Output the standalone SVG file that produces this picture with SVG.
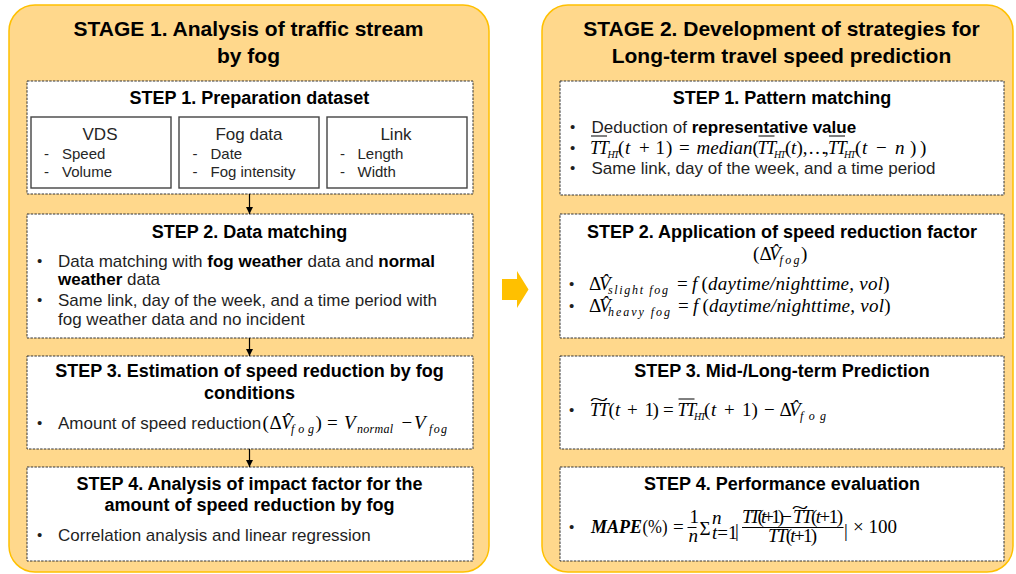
<svg xmlns="http://www.w3.org/2000/svg" width="1016" height="574" viewBox="0 0 1016 574">
<defs>
<style>
.panel{fill:#FFD88C;stroke:#FFC000;stroke-width:1.5}
.step{fill:#fff;stroke:#333;stroke-width:1;stroke-dasharray:2.5 1.2}
.sub{fill:#fff;stroke:#444;stroke-width:1.4}
.ttl{font-family:"Liberation Sans",Arial,sans-serif;font-weight:bold;font-size:21px;fill:#000;text-anchor:middle}
.st{font-family:"Liberation Sans",Arial,sans-serif;font-weight:bold;font-size:18px;fill:#000;text-anchor:middle}
.tx{font-family:"Liberation Sans",Arial,sans-serif;font-size:17px;fill:#1f1f1f}
.sh{font-family:"Liberation Sans",Arial,sans-serif;font-size:17px;fill:#262626;text-anchor:middle}
.si{font-family:"Liberation Sans",Arial,sans-serif;font-size:15px;fill:#262626}
.b{font-weight:bold;fill:#000}
.bu{font-family:"Liberation Sans",Arial,sans-serif;font-size:15px;fill:#1f1f1f}
.m{font-family:"Liberation Serif","Times New Roman",serif;font-style:italic;font-size:19px;fill:#000}
.mr{font-family:"Liberation Serif","Times New Roman",serif;font-style:normal;font-size:19px;fill:#000}
.tt{font-size:18px;letter-spacing:-1.2px}
.sb{font-size:12px}
.hs{font-size:10px;letter-spacing:-1px}
.n{font-style:normal}
.ol{stroke:#000;stroke-width:1}
.conn{stroke:#000;stroke-width:1.2;fill:none}
</style>
<marker id="ah" viewBox="0 0 10 10" refX="10" refY="5" markerWidth="7" markerHeight="7" markerUnits="userSpaceOnUse" orient="auto">
<path d="M0,0 L10,5 L0,10 z" fill="#000"/>
</marker>
</defs>

<g id="stage1">
<rect class="panel" x="9" y="5" width="480" height="567" rx="26"/>
<text class="ttl" x="248.5" y="36">STAGE 1. Analysis of traffic stream</text>
<text class="ttl" x="248.5" y="63">by fog</text>
</g>

<g id="stage2">
<rect class="panel" x="542" y="5" width="471" height="567" rx="26"/>
<text class="ttl" x="781.5" y="36">STAGE 2. Development of strategies for</text>
<text class="ttl" x="781.5" y="63">Long-term travel speed prediction</text>
</g>

<g id="flow-arrow">
<path d="M502,279 H517 V271 L528.5,289.5 L517,308 V300 H502 Z" fill="#FFC000"/>
</g>

<g id="s1-step1">
<rect class="step" x="27" y="81" width="446" height="113"/>
<text class="st" x="249.5" y="104">STEP 1. Preparation dataset</text>
</g>
<g id="s1-vds">
<rect class="sub" x="31" y="117" width="140" height="71"/>
<text class="sh" x="100" y="140">VDS</text>
<text class="si" x="44" y="159">-</text><text class="si" x="62" y="159">Speed</text>
<text class="si" x="44" y="177">-</text><text class="si" x="62" y="177">Volume</text>
</g>
<g id="s1-fog">
<rect class="sub" x="179" y="117" width="140" height="71"/>
<text class="sh" x="249" y="140">Fog data</text>
<text class="si" x="192.5" y="159">-</text><text class="si" x="210.5" y="159">Date</text>
<text class="si" x="192.5" y="177">-</text><text class="si" x="210.5" y="177">Fog intensity</text>
</g>
<g id="s1-link">
<rect class="sub" x="327" y="117" width="140" height="71"/>
<text class="sh" x="396" y="140">Link</text>
<text class="si" x="340" y="159">-</text><text class="si" x="357.5" y="159">Length</text>
<text class="si" x="340" y="177">-</text><text class="si" x="357.5" y="177">Width</text>
</g>

<g id="s1-step2">
<rect class="step" x="27" y="214" width="446" height="124"/>
<text class="st" x="249.5" y="238">STEP 2. Data matching</text>
<text class="bu" x="37" y="266">•</text>
<text class="tx" x="58" y="267">Data matching with <tspan class="b">fog weather</tspan> data and <tspan class="b">normal</tspan></text>
<text class="tx" x="58" y="285"><tspan class="b">weather</tspan> data</text>
<text class="bu" x="37" y="305">•</text>
<text class="tx" x="58" y="306">Same link, day of the week, and a time period with</text>
<text class="tx" x="58" y="324.5">fog weather data and no incident</text>
</g>

<g id="s1-step3">
<rect class="step" x="27" y="356" width="446" height="93"/>
<text class="st" x="249.5" y="377">STEP 3. Estimation of speed reduction by fog</text>
<text class="st" x="249.5" y="398.5">conditions</text>
<text class="bu" x="37" y="428">•</text>
<text class="tx" x="58" y="429">Amount of speed reduction</text>
<text class="mr" x="262.5" y="429">(</text>
<text class="mr" x="269.5" y="429">Δ</text>
<text class="m" x="281" y="429">V&#770;</text>
<text class="m sb" x="291" y="433" textLength="23" lengthAdjust="spacing">fog</text>
<text class="mr" x="315.5" y="429">)</text>
<text class="mr" x="327" y="429">=</text>
<text class="m" x="344" y="429">V</text>
<text class="m sb" x="357" y="433" textLength="36" lengthAdjust="spacing">normal</text>
<text class="mr" x="401.5" y="429">−</text>
<text class="m" x="414" y="429">V</text>
<text class="m sb" x="429" y="433" textLength="18" lengthAdjust="spacing">fog</text>
</g>

<g id="s1-step4">
<rect class="step" x="27" y="467" width="446" height="94"/>
<text class="st" x="249.5" y="490">STEP 4. Analysis of impact factor for the</text>
<text class="st" x="249.5" y="511">amount of speed reduction by fog</text>
<text class="bu" x="37" y="540">•</text>
<text class="tx" x="58" y="541">Correlation analysis and linear regression</text>
</g>

<g id="s2-step1">
<rect class="step" x="560" y="81" width="444" height="114"/>
<text class="st" x="782" y="104">STEP 1. Pattern matching</text>
<text class="bu" x="570" y="132">•</text>
<text class="tx" x="591.5" y="133">Deduction of <tspan class="b">representative value</tspan></text>
<text class="bu" x="570" y="153">•</text>
<text class="m tt" x="590" y="154">TT</text>
<line class="ol" x1="591" y1="136" x2="607" y2="136"/>
<text class="m hs" x="607.5" y="158">HT</text>
<text class="mr" y="154"><tspan x="618">(</tspan><tspan class="m" x="625">t</tspan><tspan x="639">+</tspan><tspan x="655.5">1</tspan><tspan x="666">)</tspan></text>
<text class="mr" x="679" y="154">=</text>
<text class="m" x="696.5" y="154">median</text>
<text class="mr" x="752.5" y="154">(</text>
<text class="m tt" x="757.5" y="154">TT</text>
<line class="ol" x1="758.5" y1="136" x2="774.5" y2="136"/>
<text class="m hs" x="774" y="158">HT</text>
<text class="mr" y="154"><tspan x="785">(</tspan><tspan class="m" x="791">t</tspan><tspan x="796.5">),</tspan><tspan x="808">…</tspan><tspan x="824">,</tspan></text>
<text class="m tt" x="828" y="154">TT</text>
<line class="ol" x1="829" y1="136" x2="845" y2="136"/>
<text class="m hs" x="844" y="158">HT</text>
<text class="mr" y="154"><tspan x="855">(</tspan><tspan class="m" x="862">t</tspan><tspan x="876">−</tspan><tspan class="m" x="895">n</tspan><tspan x="910">)</tspan><tspan x="920">)</tspan></text>
<text class="bu" x="570" y="172.5">•</text>
<text class="tx" x="591.5" y="173.5">Same link, day of the week, and a time period</text>
</g>

<g id="s2-step2">
<rect class="step" x="560" y="214" width="444" height="124"/>
<text class="st" x="782" y="238">STEP 2. Application of speed reduction factor</text>
<text class="mr" x="753" y="260">(</text>
<text class="mr" x="759.5" y="260">Δ</text>
<text class="m" x="769" y="260">V&#770;</text>
<text class="m sb" x="779.5" y="264" textLength="20" lengthAdjust="spacing">fog</text>
<text class="mr" x="801" y="260">)</text>
<text class="bu" x="569" y="289">•</text>
<text class="mr" x="589" y="290">Δ</text>
<text class="m" x="599" y="290">V&#770;</text>
<text class="m sb" x="608" y="294" textLength="60" lengthAdjust="spacing">slight fog</text>
<text class="mr" x="677" y="290">=</text>
<text class="m" x="692" y="290">f</text>
<text class="m" x="701.5" y="290" textLength="188" lengthAdjust="spacing"><tspan class="n">(</tspan>daytime/nighttime, vol<tspan class="n">)</tspan></text>
<text class="bu" x="569" y="311">•</text>
<text class="mr" x="589" y="312">Δ</text>
<text class="m" x="599" y="312">V&#770;</text>
<text class="m sb" x="608" y="316" textLength="62" lengthAdjust="spacing">heavy fog</text>
<text class="mr" x="678" y="312">=</text>
<text class="m" x="693" y="312">f</text>
<text class="m" x="702.5" y="312" textLength="188" lengthAdjust="spacing"><tspan class="n">(</tspan>daytime/nighttime, vol<tspan class="n">)</tspan></text>
</g>

<g id="s2-step3">
<rect class="step" x="560" y="356" width="444" height="93"/>
<text class="st" x="782" y="377">STEP 3. Mid-/Long-term Prediction</text>
<text class="bu" x="569" y="415">•</text>
<text class="m tt" x="590" y="416">TT</text>
<text class="mr" font-size="16" text-anchor="middle" transform="translate(599,406) scale(1.8,1)">~</text>
<text class="mr" y="416"><tspan x="608.5">(</tspan><tspan class="m" x="615">t</tspan><tspan x="627">+</tspan><tspan x="644.5">1</tspan><tspan x="652.5">)</tspan></text>
<text class="mr" x="663" y="416">=</text>
<text class="m tt" x="677.5" y="416">TT</text>
<line class="ol" x1="678.5" y1="399" x2="694.5" y2="399"/>
<text class="m hs" x="694" y="420">HT</text>
<text class="mr" y="416"><tspan x="704">(</tspan><tspan class="m" x="711">t</tspan><tspan x="724">+</tspan><tspan x="742">1</tspan><tspan x="751.5">)</tspan></text>
<text class="mr" x="764" y="416">−</text>
<text class="mr" x="779.5" y="416">Δ</text>
<text class="m" x="789" y="416">V&#770;</text>
<text class="m sb" x="800" y="420" textLength="26" lengthAdjust="spacing">fog</text>
</g>

<g id="s2-step4">
<rect class="step" x="560" y="467" width="444" height="94"/>
<text class="st" x="782" y="490">STEP 4. Performance evaluation</text>
<text class="bu" x="569" y="532">•</text>
<text class="m" x="591" y="533" font-size="18" font-weight="bold" textLength="51" lengthAdjust="spacingAndGlyphs">MAPE</text>
<text class="mr" x="642.5" y="533" font-size="18" textLength="25" lengthAdjust="spacingAndGlyphs">(%)</text>
<text class="mr" x="673" y="533" font-size="18">=</text>
<text class="mr" x="689.5" y="523" font-size="11">1</text>
<line class="ol" x1="687.5" y1="527.5" x2="696.5" y2="527.5" stroke-width="0.8"/>
<text class="m" x="688.5" y="542" font-size="11">n</text>
<text class="mr" x="699.5" y="535" font-size="19">Σ</text>
<text class="m" x="712" y="524" font-size="10">n</text>
<text class="m" x="712" y="538.5" font-size="10.5"><tspan>t</tspan><tspan class="n">=1</tspan></text>
<text class="mr" x="735" y="537" font-size="40">|</text>
<text class="m" x="742" y="522.5" font-size="12.5" textLength="50" lengthAdjust="spacing">TT<tspan class="n">(</tspan>t<tspan class="n">+1)−</tspan></text>
<text class="m" x="793" y="522.5" font-size="12.5" textLength="50" lengthAdjust="spacing">TT<tspan class="n">(</tspan>t<tspan class="n">+1)</tspan></text>
<text class="mr" font-size="11" text-anchor="middle" transform="translate(800,513.5) scale(1.6,1)">~</text>
<line class="ol" x1="742" y1="527.5" x2="843.5" y2="527.5" stroke-width="0.8"/>
<text class="m" x="768" y="542" font-size="12.5" textLength="49" lengthAdjust="spacing">TT<tspan class="n">(</tspan>t<tspan class="n">+1)</tspan></text>
<text class="mr" x="844" y="537" font-size="40">|</text>
<text class="mr" x="853" y="533" font-size="18">× 100</text>
</g>

<g id="connectors">
<line class="conn" x1="249.5" y1="194" x2="249.5" y2="214" marker-end="url(#ah)"/>
<line class="conn" x1="249.5" y1="338" x2="249.5" y2="356" marker-end="url(#ah)"/>
<line class="conn" x1="249.5" y1="449" x2="249.5" y2="467" marker-end="url(#ah)"/>
</g>
</svg>
